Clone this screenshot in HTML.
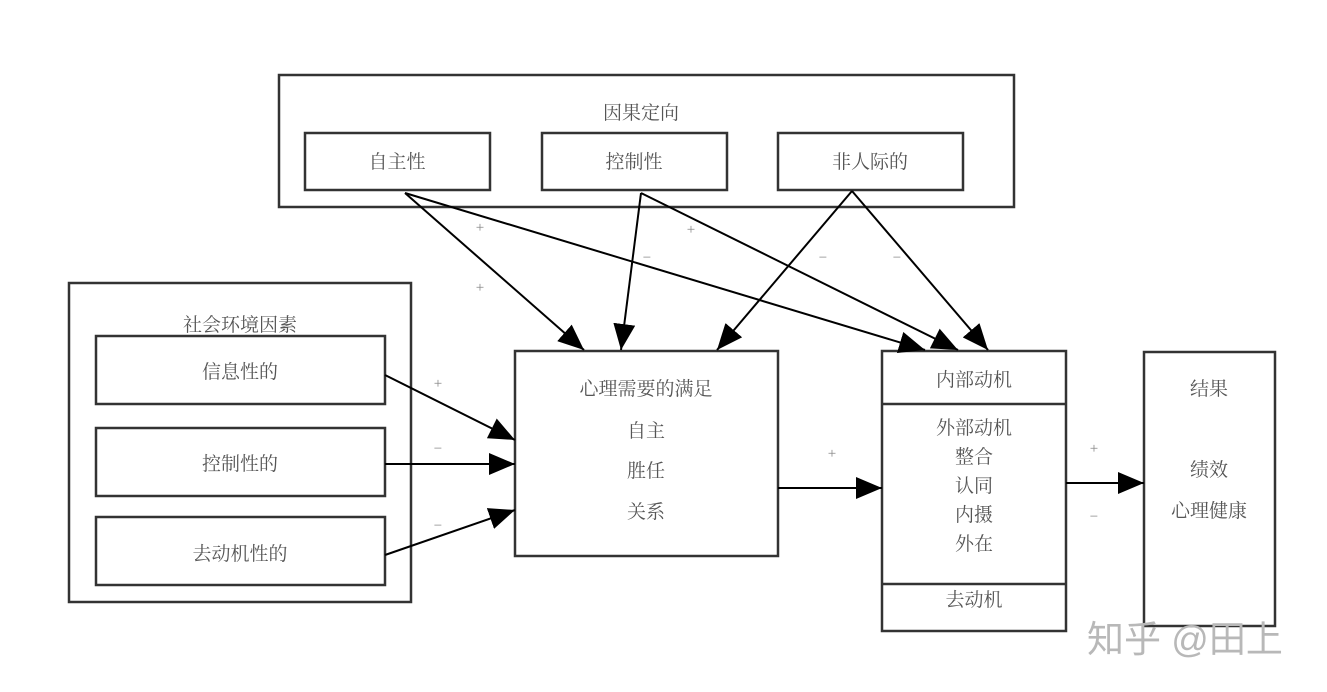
<!DOCTYPE html>
<html><head><meta charset="utf-8"><style>
html,body{margin:0;padding:0;background:#fff;}
svg{display:block;}
text{font-family:"Liberation Serif","Noto Serif CJK SC",serif;fill:#555;font-size:19px;text-anchor:middle;}
.s{font-size:15px;fill:#888;}
.w{font-family:"Liberation Sans","Noto Sans CJK SC",sans-serif;font-size:37px;fill:#b8b8b8;text-anchor:start;}
</style></head><body>
<svg width="1327" height="692" viewBox="0 0 1327 692" xmlns="http://www.w3.org/2000/svg">
<defs><marker id="a" viewBox="0 0 10 10" refX="10" refY="5" markerWidth="10" markerHeight="10" markerUnits="userSpaceOnUse" orient="auto"><path d="M0,0 L10,5 L0,10 z" fill="#000"/></marker>
<marker id="b" viewBox="0 0 10 10" refX="10" refY="5" markerWidth="26" markerHeight="22" markerUnits="userSpaceOnUse" orient="auto" preserveAspectRatio="none"><path d="M0,0 L10,5 L0,10 z" fill="#000"/></marker></defs>
<g fill="none" stroke="#333" stroke-width="2.5">
<rect x="279" y="75" width="735" height="132"/>
<rect x="305" y="133" width="185" height="57"/>
<rect x="542" y="133" width="185" height="57"/>
<rect x="778" y="133" width="185" height="57"/>
<rect x="69" y="283" width="342" height="319"/>
<rect x="96" y="336" width="289" height="68"/>
<rect x="96" y="428" width="289" height="68"/>
<rect x="96" y="517" width="289" height="68"/>
<rect x="515" y="351" width="263" height="205"/>
<rect x="882" y="351" width="184" height="280"/>
<line x1="882" y1="404" x2="1066" y2="404"/>
<line x1="882" y1="584" x2="1066" y2="584"/>
<rect x="1144" y="352" width="131" height="274"/>
</g>
<g stroke="#000" stroke-width="2" marker-end="url(#b)">
<line x1="405" y1="193" x2="584" y2="350"/>
<line x1="405" y1="193" x2="925" y2="350"/>
<line x1="641" y1="193" x2="621" y2="350"/>
<line x1="641" y1="193" x2="958" y2="350"/>
<line x1="852" y1="191" x2="717" y2="350"/>
<line x1="852" y1="191" x2="988" y2="350"/>
<line x1="385" y1="375" x2="515" y2="440"/>
<line x1="385" y1="464" x2="515" y2="464"/>
<line x1="385" y1="555" x2="515" y2="510"/>
<line x1="778" y1="488" x2="882" y2="488"/>
<line x1="1066" y1="483" x2="1144" y2="483"/>
</g>
<text x="641" y="119">因果定向</text>
<text x="397" y="168">自主性</text>
<text x="634" y="168">控制性</text>
<text x="870" y="168">非人际的</text>
<text x="240" y="331">社会环境因素</text>
<text x="240" y="378">信息性的</text>
<text x="240" y="470">控制性的</text>
<text x="240" y="560">去动机性的</text>
<text x="646" y="395">心理需要的满足</text>
<text x="646" y="437">自主</text>
<text x="646" y="477">胜任</text>
<text x="646" y="518">关系</text>
<text x="974" y="386">内部动机</text>
<text x="974" y="434">外部动机</text>
<text x="974" y="463">整合</text>
<text x="974" y="492">认同</text>
<text x="974" y="521">内摄</text>
<text x="974" y="550">外在</text>
<text x="974" y="606">去动机</text>
<text x="1209" y="395">结果</text>
<text x="1209" y="476">绩效</text>
<text x="1209" y="517">心理健康</text>
<text class="s" x="480" y="232">+</text>
<text class="s" x="480" y="292">+</text>
<text class="s" x="691" y="234">+</text>
<text class="s" x="647" y="262">−</text>
<text class="s" x="823" y="262">−</text>
<text class="s" x="897" y="262">−</text>
<text class="s" x="438" y="388">+</text>
<text class="s" x="438" y="453">−</text>
<text class="s" x="438" y="530">−</text>
<text class="s" x="832" y="458">+</text>
<text class="s" x="1094" y="453">+</text>
<text class="s" x="1094" y="521">−</text>
<text class="w" x="1087" y="652">知乎 @田上</text>
</svg>
</body></html>
